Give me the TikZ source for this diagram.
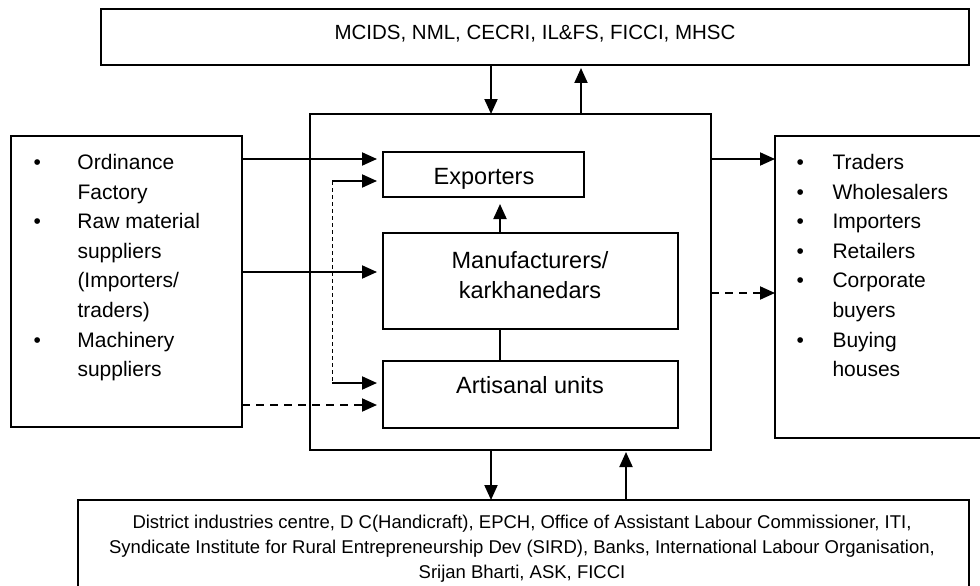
\documentclass[tikz,border=0pt]{standalone}
\usepackage{fontspec}
\setmainfont{Liberation Sans}
\usetikzlibrary{arrows.meta}
\begin{document}
\begin{tikzpicture}[x=1pt,y=-1pt,
  box/.style={draw, line width=1.2pt, inner sep=0pt, outer sep=0pt, rectangle, anchor=north west},
  arr/.style={line width=2pt, -{Triangle[length=15pt,width=13pt]}},
  darr/.style={arr, dash pattern=on 8pt off 6pt},
  dotline/.style={line width=0.9pt, dash pattern=on 4pt off 3pt},
  txt/.style={inner sep=0pt, anchor=base},
  mainfont/.style={font=\fontsize{23.5}{30}\selectfont},
  listfont/.style={font=\fontsize{21}{29.6}\selectfont},
]
\useasboundingbox (0,0) rectangle (980,586);

% boxes
\node[box, minimum width=868pt, minimum height=56pt] (top) at (101,9) {};
\node[box, minimum width=401pt, minimum height=336pt] (main) at (310,114) {};
\node[box, minimum width=231pt, minimum height=291pt] (left) at (11,136) {};
\node[box, minimum width=215pt, minimum height=302pt] (right) at (775,136) {};
\node[box, minimum width=891pt, minimum height=100pt] (bot) at (78,500) {};
\node[box, minimum width=201pt, minimum height=45pt] (exp) at (383,152) {};
\node[box, minimum width=295pt, minimum height=96pt] (manu) at (383,233) {};
\node[box, minimum width=295pt, minimum height=67pt] (art) at (383,361) {};

% texts
\node[txt, font=\fontsize{20.5}{24}\selectfont] (toptext) at (535,39.5) {MCIDS, NML, CECRI, IL\&FS, FICCI, MHSC};
\node[txt, mainfont] (exptext) at (484,184.4) {Exporters};
\node[txt, mainfont] (manutext1) at (530,268.4) {Manufacturers/};
\node[txt, mainfont] (manutext2) at (530,298.4) {karkhanedars};
\node[txt, mainfont] (arttext) at (530,393.4) {Artisanal units};
\node[txt, font=\fontsize{18.5}{24}\selectfont] (bt1) at (522,528) {District industries centre, D C(Handicraft), EPCH, Office of Assistant Labour Commissioner, ITI,};
\node[txt, font=\fontsize{18.5}{24}\selectfont] (bt2) at (522,553) {Syndicate Institute for Rural Entrepreneurship Dev (SIRD), Banks, International Labour Organisation,};
\node[txt, font=\fontsize{18.5}{24}\selectfont] (bt3) at (522,578) {Srijan Bharti, ASK, FICCI};

\node[inner sep=0pt, anchor=base west, listfont] (lefttext) at (33.3,169.5)
  {\begin{tabular}[t]{@{}p{44pt}@{}l@{}}
   \textbullet & Ordinance\\
               & Factory\\
   \textbullet & Raw material\\
               & suppliers\\
               & (Importers/\\
               & traders)\\
   \textbullet & Machinery\\
               & suppliers
   \end{tabular}};
\node[inner sep=0pt, anchor=base west, listfont] (righttext) at (796.3,169.5)
  {\begin{tabular}[t]{@{}p{36pt}@{}l@{}}
   \textbullet & Traders\\
   \textbullet & Wholesalers\\
   \textbullet & Importers\\
   \textbullet & Retailers\\
   \textbullet & Corporate\\
               & buyers\\
   \textbullet & Buying\\
               & houses
   \end{tabular}};

% coordinates
\coordinate (xa) at (491,0);
\coordinate (xb) at (581,0);
\coordinate (xc) at (626,0);
\coordinate (xm) at (500,0);
\coordinate (y1) at (0,159);
\coordinate (y2) at (0,272);
\coordinate (y3) at (0,405);
\coordinate (yr2) at (0,293);
\coordinate (d1) at (332,181);
\coordinate (d2) at (332,383);

% top connectors
\draw[arr] (top.south -| xa) -- (main.north -| xa);
\draw[arr, shorten >=3pt] (main.north -| xb) -- (top.south -| xb);
% bottom connectors
\draw[arr] (main.south -| xa) -- (bot.north -| xa);
\draw[arr, shorten >=2pt] (bot.north -| xc) -- (main.south -| xc);
% left connectors
\draw[arr, shorten >=6pt] (left.east |- y1) -- (exp.west |- y1);
\draw[arr, shorten >=6pt] (left.east |- y2) -- (manu.west |- y2);
\draw[darr, shorten >=6pt] (left.east |- y3) -- (art.west |- y3);
% dotted feedback
\draw[dotline] (d1) -- (d2);
\draw[arr, shorten >=6pt] (d1) -- (exp.west |- d1);
\draw[arr, shorten >=6pt] (d2) -- (art.west |- d2);
% inner connectors
\draw[arr, shorten >=7pt] (manu.north -| xm) -- (exp.south -| xm);
\draw[line width=2pt] (art.north -| xm) -- (manu.south -| xm);
\draw[line width=1.5pt] ([xshift=-5.5pt]manu.south -| xm) -- ([xshift=5.5pt]manu.south -| xm);
% right connectors
\draw[arr] (main.east |- y1) -- (right.west |- y1);
\draw[darr] (main.east |- yr2) -- (right.west |- yr2);
\end{tikzpicture}
\end{document}
